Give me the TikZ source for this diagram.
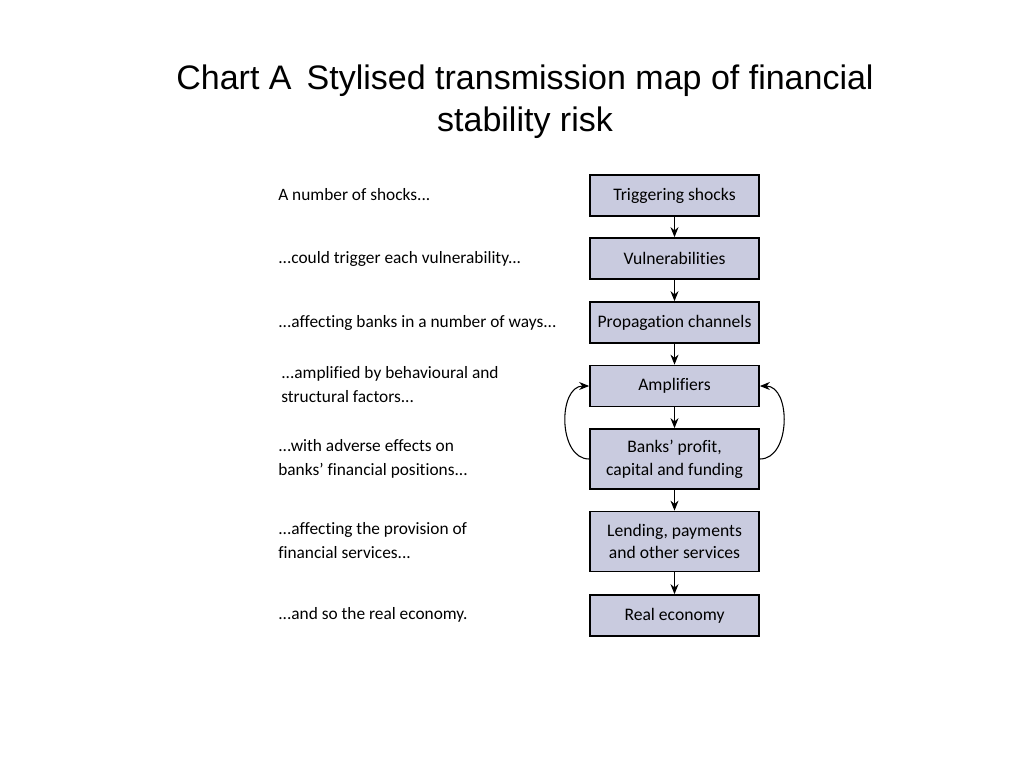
\documentclass[tikz,border=0pt]{standalone}
\usepackage{fontspec}
\usepackage{tikz}
\usepackage{xcolor}
\usetikzlibrary{arrows.meta}
\setmainfont{Liberation Sans}
\newfontfamily\mapfont[Ligatures=NoCommon]{Carlito}
\definecolor{boxfill}{HTML}{C9CBDF}

\begin{document}
\begin{tikzpicture}[x=0.75pt,y=-0.75pt,
    stage/.style={draw, line width=1.3pt, fill=boxfill, rectangle, minimum width=126.75pt, minimum height=30.75pt, font=\mapfont\fontsize{13.2}{17}\selectfont, align=center, inner sep=1pt},
    tall/.style={stage, minimum height=45pt},
    note/.style={anchor=west, font=\mapfont\fontsize{13}{18}\selectfont, align=left, inner sep=0pt},
    flow/.style={-{Stealth[length=7.5pt,width=6pt]}, thick}]
    \useasboundingbox (0,0) rectangle (1024,768);
    \node[font=\fontsize{25.5}{31.5}\selectfont, align=center] (title) at (525,102) {Chart A\, Stylised transmission map of financial\\stability risk};

    \node[stage] (shock) at (674.5,195.5) {Triggering shocks};
    \node[stage] (vuln) at (674.5,258.5) {Vulnerabilities};
    \node[stage] (prop) at (674.5,322.5) {Propagation channels};
    \node[stage] (ampl) at (674.5,386) {Amplifiers};
    \node[tall] (bank) at (674.5,459) {Banks’ profit,\\capital and funding};
    \node[tall] (lend) at (674.5,541.5) {Lending, payments\\and other services};
    \node[stage] (real) at (674.5,615.5) {Real economy};

    \draw[flow] (shock) -- (vuln);
    \draw[flow] (vuln) -- (prop);
    \draw[flow] (prop) -- (ampl);
    \draw[flow] (ampl) -- (bank);
    \draw[flow] (bank) -- (lend);
    \draw[flow] (lend) -- (real);
    \draw[flow] (bank.west) to[out=180, in=180, looseness=1.1] (ampl.west);
    \draw[flow] (bank.east) to[out=0, in=0, looseness=1.1] (ampl.east);

    \node[note] (n1) at (278,195) {A number of shocks...};
    \node[note] (n2) at (278,259) {...could trigger each vulnerability...};
    \node[note] (n3) at (278,323) {...affecting banks in a number of ways...};
    \node[note] (n4) at (281,385) {...amplified by behavioural and\\structural factors...};
    \node[note] (n5) at (278,459) {...with adverse effects on\\banks’ financial positions...};
    \node[note] (n6) at (278,541) {...affecting the provision of\\financial services...};
    \node[note] (n7) at (278,615) {...and so the real economy.};
\end{tikzpicture}
\end{document}
